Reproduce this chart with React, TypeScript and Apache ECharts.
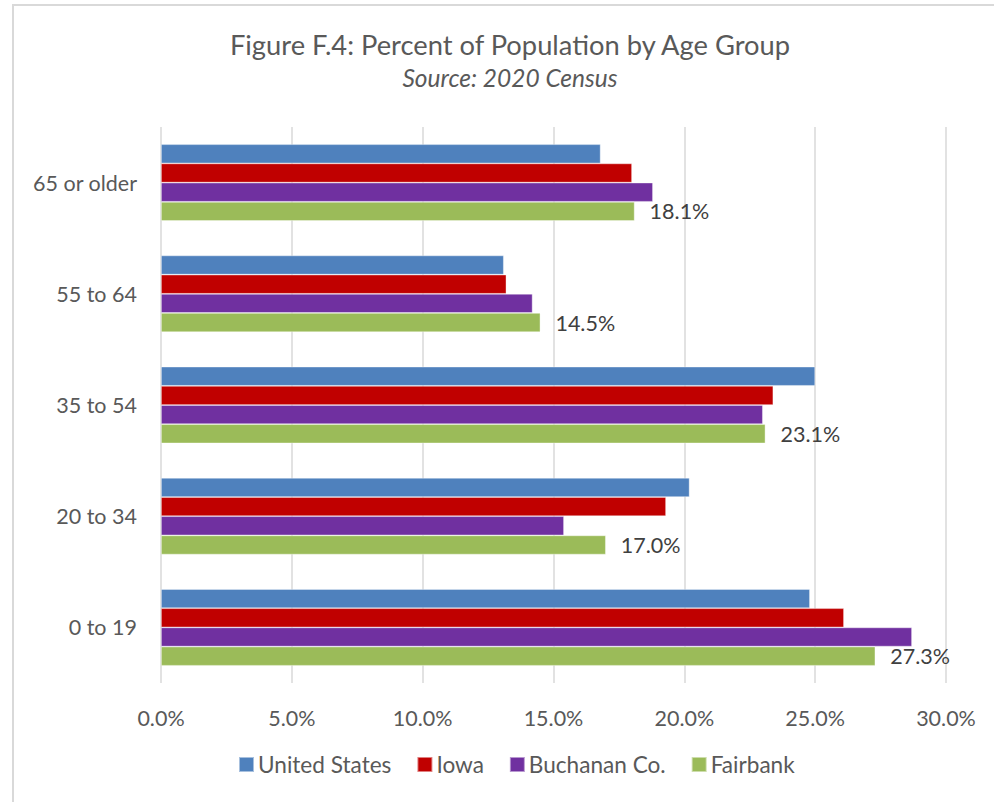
import React, { useEffect, useRef } from "react";
import * as echarts from "echarts";

const categories = ["65 or older", "55 to 64", "35 to 54", "20 to 34", "0 to 19"];
const seriesNames = ["United States", "Iowa", "Buchanan Co.", "Fairbank"];
const unitedStates = [16.8, 13.1, 25.0, 20.2, 24.8];
const iowa = [18.0, 13.2, 23.4, 19.3, 26.1];
const buchanan = [18.8, 14.2, 23.0, 15.4, 28.7];
const fairbank = [18.1, 14.5, 23.1, 17.0, 27.3];
const colors = ["#4f81bd", "#c00000", "#7030a0", "#9bbb59"];
const xTicks = { min: 0, max: 30, interval: 5 };

const FONT = "Lato";

export default function App() {
  const ref = useRef<HTMLDivElement>(null);
  useEffect(() => {
    document.body.style.margin = "0";
    if (!ref.current) return;
    const chart = echarts.init(ref.current, null, { renderer: "svg" });
    const values = [unitedStates, iowa, buchanan, fairbank];
    chart.setOption({
      animation: false,
      backgroundColor: "#ffffff",
      textStyle: { fontFamily: FONT },
      graphic: [
        {
          type: "rect",
          shape: { x: 13, y: 5, width: 1000, height: 820 },
          style: { fill: "none", stroke: "#d9d9d9", lineWidth: 2 },
          silent: true,
        },
      ],
      title: {
        text: "Figure F.4: Percent of Population by Age Group",
        subtext: "Source: 2020 Census",
        left: 505,
        textAlign: "center",
        top: 26,
        itemGap: 7,
        textStyle: { fontFamily: FONT, fontSize: 27.3, fontWeight: "normal", color: "#595959" },
        subtextStyle: { fontFamily: FONT, fontSize: 24.5, fontStyle: "italic", color: "#595959" },
      },
      legend: {
        data: seriesNames,
        bottom: 21,
        left: 233,
        itemWidth: 15,
        itemHeight: 15,
        itemGap: 25,
        icon: "rect",
        textStyle: { fontFamily: FONT, fontSize: 22.6, color: "#595959", padding: [0, 0, 0, -1] },
      },
      grid: { left: 161, right: 48, top: 127, bottom: 119, containLabel: false },
      xAxis: {
        type: "value",
        min: xTicks.min,
        max: xTicks.max,
        interval: xTicks.interval,
        axisLine: { show: false },
        axisTick: { show: false },
        axisLabel: {
          formatter: (v: number) => v.toFixed(1) + "%",
          fontFamily: FONT,
          fontSize: 21.5,
          color: "#595959",
          margin: 24,
        },
        splitLine: { show: true, lineStyle: { color: "#d9d9d9", width: 1.5 } },
      },
      yAxis: {
        type: "category",
        data: categories,
        inverse: true,
        axisLine: { show: false },
        axisTick: { show: false },
        axisLabel: { fontFamily: FONT, fontSize: 21.5, color: "#595959", margin: 24 },
      },
      series: seriesNames.map((name, i) => ({
        name,
        type: "bar",
        data: values[i],
        barGap: "0%",
        barCategoryGap: "31%",
        itemStyle: { color: colors[i], borderColor: "rgba(255,255,255,0.5)", borderWidth: 0.75 },
        label:
          i === 3
            ? {
                show: true,
                position: "right",
                distance: 15,
                formatter: (p: any) => p.value.toFixed(1) + "%",
                fontFamily: FONT,
                fontSize: 21.5,
                color: "#404040",
              }
            : { show: false },
      })),
    });
    return () => chart.dispose();
  }, []);
  return <div ref={ref} style={{ width: 994, height: 802 }} />;
}
